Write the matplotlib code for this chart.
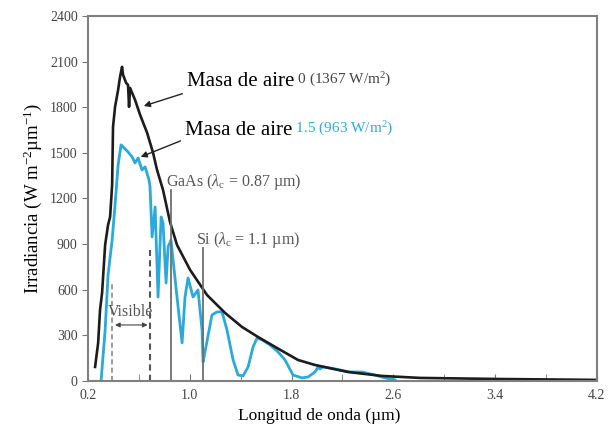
import numpy as np
import matplotlib
matplotlib.use('Agg')
import matplotlib.pyplot as plt

plt.rcParams['font.family'] = ['Liberation Serif', 'DejaVu Serif']
plt.rcParams['mathtext.fontset'] = 'custom'
plt.rcParams['mathtext.rm'] = 'Liberation Serif'
plt.rcParams['mathtext.it'] = 'Liberation Serif:italic'

# masa de aire 0
am0_x = [0.255, 0.279, 0.294, 0.310, 0.318, 0.334, 0.357, 0.373, 0.389, 0.396, 0.412, 0.436,
         0.451, 0.467, 0.475, 0.499, 0.514, 0.522, 0.530, 0.569, 0.609, 0.664, 0.711, 0.742,
         0.789, 0.844, 0.899, 1.002, 1.135, 1.277, 1.410, 1.536, 1.670, 1.850, 1.984, 2.243,
         2.510, 2.809, 3.414, 4.2]
am0_y = [92, 250, 467, 579, 684, 894, 1026, 1078, 1289, 1670, 1802, 1913,
         1999, 2065, 2012, 1959, 1946, 1802, 1926, 1848, 1749, 1631, 1499, 1387,
         1256, 1045, 894, 730, 565, 447, 355, 289, 224, 138, 105, 59,
         33, 20, 13, 7]

# masa de aire 1.5
am15_x = [0.302, 0.334, 0.357, 0.389, 0.412, 0.436, 0.459, 0.483, 0.514, 0.546, 0.569, 0.593,
          0.624, 0.648, 0.679, 0.687, 0.703, 0.727, 0.750, 0.774, 0.789, 0.813, 0.829, 0.852,
          0.868, 0.899, 0.939, 0.962, 0.986, 1.025, 1.064, 1.096, 1.104, 1.119, 1.174, 1.214,
          1.253, 1.292, 1.340, 1.379, 1.418, 1.458, 1.497, 1.529, 1.567, 1.630, 1.693, 1.748,
          1.811, 1.882, 1.929, 1.984, 2.008, 2.023, 2.047, 2.141, 2.259, 2.353, 2.455, 2.534,
          2.613]
am15_y = [0, 335, 697, 927, 1157, 1420, 1552, 1532, 1506, 1473, 1433, 1466,
          1387, 1407, 1322, 1276, 947, 1144, 552, 1078, 1039, 644, 881, 927,
          796, 552, 250, 552, 677, 552, 598, 335, 125, 191, 434, 454,
          454, 335, 138, 39, 33, 92, 224, 283, 270, 237, 191, 138,
          39, 20, 26, 59, 92, 79, 92, 79, 59, 59, 39, 20,
          7]

gaas_x = 0.85
si_x = 1.1
visible = [0.39, 0.69]

xticks = [0.2, 1.0, 1.8, 2.6, 3.4, 4.2]
yticks = [0, 300, 600, 900, 1200, 1500, 1800, 2100, 2400]

black = '#1c1c1c'
blue = '#2aa9dc'
grey = '#6e6e6e'

fig = plt.figure(figsize=(6.16, 4.29), dpi=100)
ax = fig.add_axes([0.143, 0.112, 0.826, 0.851])

ax.plot(am15_x, am15_y, color=blue, lw=2)
ax.plot(am0_x, am0_y, color=black, lw=1.9)

# band gap lines
ax.plot([gaas_x, gaas_x], [0, 1256], color=grey, lw=1.3)
ax.plot([si_x, si_x], [0, 874], color=grey, lw=1.3)
ax.text(0.813, 1308, r'GaAs ($\lambda_{\rm c}$ = 0.87 µm)', fontsize=11.5, color='#555555', va='center')
ax.text(1.049, 927, r'Si ($\lambda_{\rm c}$ = 1.1 µm)', fontsize=11.5, color='#555555', va='center')

# visible
ax.plot([visible[0], visible[0]], [0, 644], color='#888888', lw=1.2, ls=(0, (3, 2)))
ax.plot([visible[1], visible[1]], [0, 861], color='#555555', lw=1.5, ls=(0, (3, 2)))
ax.text(0.535, 454, 'Visible', fontsize=11.5, color='#555555', ha='center', va='center')
ax.annotate('', xy=(visible[0], 368), xytext=(visible[1], 368),
            arrowprops=dict(arrowstyle='<|-|>', color='#444444', lw=0.8, mutation_scale=7))

# labels with arrows
t1 = ax.text(0.975, 1966, 'Masa de aire', fontsize=15, color='black', va='center')
ax.annotate(' 0 (1367 W/m$^2$)', xy=(1, 0), xycoords=t1, xytext=(0, 2), textcoords='offset points',
            fontsize=11, color='#444444', va='bottom')
ax.annotate('', xy=(0.617, 1802), xytext=(0.962, 1894),
            arrowprops=dict(arrowstyle='-|>', color='#222222', lw=1, mutation_scale=9))

t2 = ax.text(0.962, 1644, 'Masa de aire', fontsize=15, color='black', va='center')
ax.annotate(' 1.5 (963 W/m$^2$)', xy=(1, 0), xycoords=t2, xytext=(0, 2), textcoords='offset points',
            fontsize=11, color=blue, va='bottom')
ax.annotate('', xy=(0.593, 1466), xytext=(0.947, 1585),
            arrowprops=dict(arrowstyle='-|>', color='#222222', lw=1, mutation_scale=9))

ax.set_xlim(0.2, 4.2)
ax.set_ylim(0, 2400)
ax.set_xticks(xticks)
ax.set_xticks(np.arange(0.6, 4.2, 0.8), minor=True)
ax.set_yticks(yticks)
ax.tick_params(axis='x', which='both', direction='in', length=5, color='#777777',
               labelsize=10, labelcolor='#444444', pad=6)
ax.tick_params(axis='y', direction='out', length=4, color='#777777',
               labelsize=10, labelcolor='#444444')
for s in ax.spines.values():
    s.set_color('#808080')
    s.set_linewidth(1.5)

ax.set_xlabel('Longitud de onda (µm)', fontsize=12.5)
ax.xaxis.set_label_coords(0.455, -0.075)
ax.set_ylabel('Irradiancia (W m$^{-2}$µm$^{-1}$)', fontsize=13.5)

fig.savefig('out.png', dpi=100)
